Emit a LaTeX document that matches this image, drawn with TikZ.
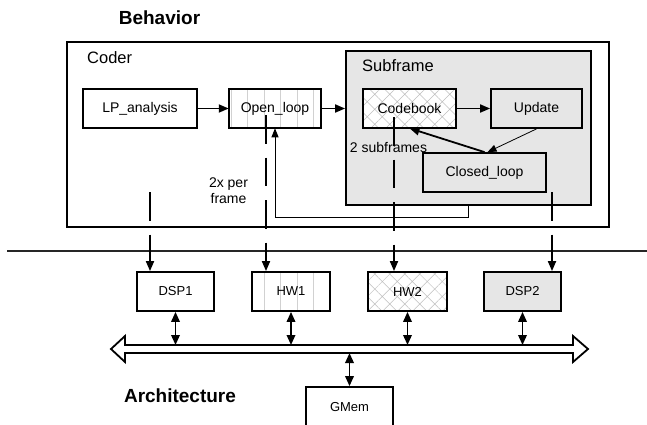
\documentclass[tikz,border=0pt]{standalone}
\usepackage{fontspec}
\setmainfont{Liberation Sans}
\usetikzlibrary{arrows.meta,patterns.meta}
\definecolor{boxgray}{HTML}{E6E6E6}
\tikzset{
  blk/.style={draw, line width=1.8pt, minimum height=39pt, inner sep=0pt, font=\fontsize{14}{16}\selectfont},
  hwblk/.style={blk, font=\fontsize{13}{15}\selectfont},
  grayfill/.style={fill=boxgray},
  hatched/.style={preaction={fill=white}, pattern={Hatch[angle=45,distance=10.6pt,line width=0.5pt]}, pattern color=black!25},
  striped/.style={pattern={Lines[angle=90,distance=16.5pt,line width=0.5pt]}, pattern color=black!18},
  title/.style={inner sep=0pt, anchor=west, font=\fontsize{16.5}{18}\selectfont},
  heading/.style={inner sep=0pt, font=\fontsize{19}{21}\selectfont\bfseries},
  note/.style={inner sep=0pt, font=\fontsize{14}{16}\selectfont},
  arr/.style={-{Triangle[length=10pt,width=8pt]}, line width=1.8pt},
  thinarr/.style={-{Triangle[length=9pt,width=7pt]}, line width=0.8pt},
  map/.style={arr, dash pattern=on 28.5pt off 14pt},
  busarr/.style={{Triangle[length=10pt,width=8.5pt]}-{Triangle[length=10pt,width=8.5pt]}, line width=1.8pt},
}
\begin{document}
\begin{tikzpicture}[x=1pt,y=-1pt]
	\useasboundingbox (0,0) rectangle (647,424);
	
	% behavior
	\node[heading] (beh) at (159.5,18) {Behavior};
	\node[draw, line width=1.8pt, minimum width=542pt, minimum height=185pt] (coder) at (338,134.5) {};
	\node[title] (codertxt) at (87,58) {Coder};
	\node[draw, grayfill, line width=1.8pt, minimum width=245pt, minimum height=154pt] (sub) at (468.5,128) {};
	\node[title] (subtxt) at (362,66) {Subframe};
	
	\node[blk, minimum width=114pt] (LP) at (140,108.5) {LP\_analysis};
	\node[blk, striped, minimum width=92pt] (OL) at (275,108.5) {Open\_loop};
	\node[blk, hatched, minimum width=93pt] (CB) at (409.5,108.5) {Codebook};
	\node[blk, grayfill, minimum width=91pt] (UP) at (536.5,108.5) {Update};
	\node[blk, grayfill, minimum width=123pt] (CL) at (484.5,172.5) {Closed\_loop};
	
	\node[note, align=center] (perframe) at (228.5,191) {2x per\\frame};
	\node[note] (subfr) at (388.5,147) {2 subframes};
	
	\draw[arr] (LP) -- (OL);
	\draw[arr] (OL.east) -- (OL.east -| sub.west);
	\draw[arr] (CB) -- (UP);
	\draw[arr] (CL.north) -- (CB.south);
	\draw[thinarr] (UP.south) -- ([xshift=3pt]CL.north);
	\coordinate (fb) at (468,205);
	\draw[thinarr] (fb) -- (468,217) -| (OL.south);
	
	% separator
	\draw[line width=1.4pt, black!85] (7,251) -- (647,251);
	
	% architecture
	\node[hwblk, minimum width=77pt] (DSP1) at (175.5,291.5) {DSP1};
	\node[hwblk, striped, minimum width=78pt] (HW1) at (291,291.5) {HW1};
	\node[hwblk, hatched, minimum width=79pt] (HW2) at (407.5,291.5) {HW2};
	\node[hwblk, grayfill, minimum width=77pt] (DSP2) at (522.5,291.5) {DSP2};
	\node[hwblk, minimum width=87pt, minimum height=40pt] (GMem) at (349.5,407) {GMem};
	\node[heading] (arch) at (180,396) {Architecture};
	
	\draw[line width=1.8pt, fill=white] (111,349) -- (125,336) -- (125,345) -- (573,345) -- (573,336)
		-- (588,349) -- (573,362) -- (573,353) -- (125,353) -- (125,362) -- cycle;
	\coordinate (bustop) at (349,345);
	\coordinate (busbot) at (349,353);
	
	\draw[busarr] (DSP1.south) -- (DSP1.south |- bustop);
	\draw[busarr] (HW1.south) -- (HW1.south |- bustop);
	\draw[busarr] (HW2.south) -- (HW2.south |- bustop);
	\draw[busarr] (DSP2.south) -- (DSP2.south |- bustop);
	\draw[busarr] (busbot -| GMem.north) -- (GMem.north);
	
	% mapping
	\coordinate (lpmap) at (150,192);
	\coordinate (olmap) at (266,115);
	\coordinate (cbmap) at (394,117);
	\coordinate (clmap) at (552,192);
	\draw[map] (lpmap) -- (lpmap |- DSP1.north);
	\draw[map] (olmap) -- (olmap |- HW1.north);
	\draw[map] (cbmap) -- (cbmap |- HW2.north);
	\draw[map] (clmap) -- (clmap |- DSP2.north);
	
\end{tikzpicture}
\end{document}
